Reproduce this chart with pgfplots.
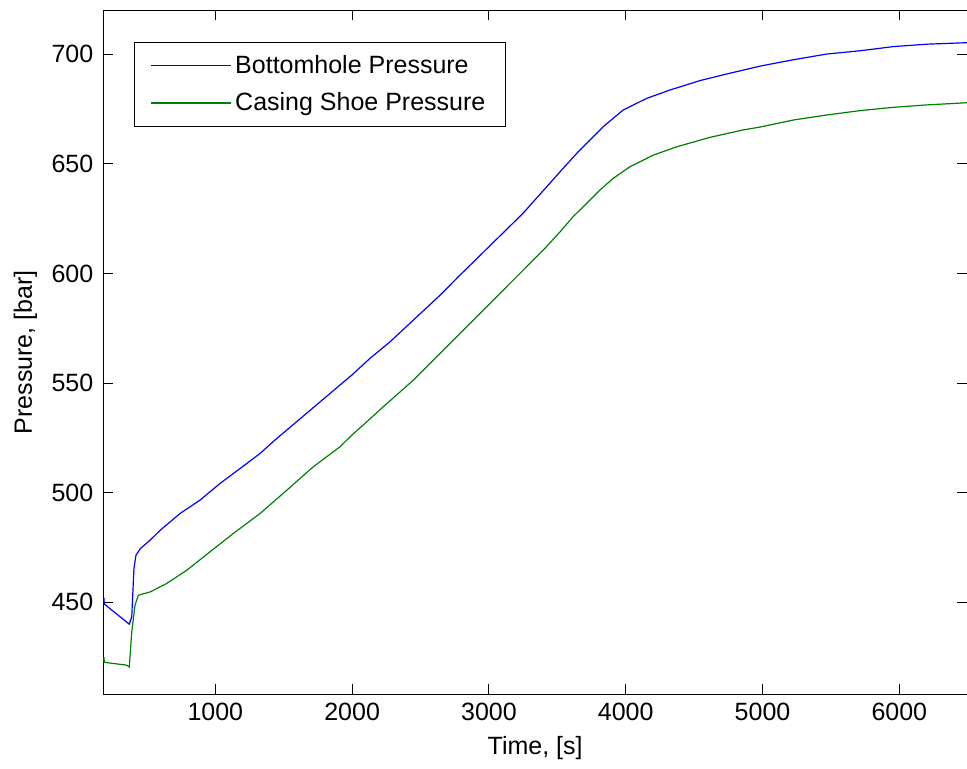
\documentclass[border=0pt]{standalone}
\usepackage{fontspec}
\setmainfont{Liberation Sans}
\usepackage{pgfplots}
\pgfplotsset{compat=1.18}
\definecolor{mblue}{RGB}{0,0,255}
\definecolor{mgreen}{RGB}{0,128,0}
\begin{document}
\begin{tikzpicture}
\useasboundingbox (-51.65pt,-36.85pt) rectangle (431.85pt,347.15pt);
\begin{axis}[
  scale only axis, width=431.85pt, height=342.15pt,
  xmin=181, xmax=6495, ymin=408, ymax=720.2,
  xtick={1000,2000,3000,4000,5000,6000}, ytick={450,500,550,600,650,700},
  tick align=inside, major tick length=5pt,
  tick style={line width=0.5pt, black},
  axis line style={line width=0.5pt},
  font=\fontsize{12.5}{15}\selectfont,
  /pgf/number format/assume math mode=true,
  scaled x ticks=false,
  xticklabel style={/pgf/number format/1000 sep={}, yshift=-1pt},
  yticklabel style={xshift=-1.5pt},
  xlabel={Time, [s]}, ylabel={Pressure, [bar]},
  xlabel style={at={(axis description cs:0.5,-0.079)}, anchor=center},
  ylabel style={at={(axis description cs:-0.0903,0.5)}, anchor=center},
  legend style={at={(0.035,0.953)}, anchor=north west, draw=black, line width=0.5pt,
    cells={anchor=west}, row sep=4pt, inner xsep=8pt, inner ysep=4.3pt},
  legend image code/.code={\draw[#1] (0pt,0pt) -- (40pt,0pt);},
]
\addplot[mblue, line width=0.6pt] coordinates {
(181,449.4) (186,452.0) (188,449.2) (371,440.0) (389,443.3) (405,465.4) (420,471.5)
(452,474.5) (523,478.3) (596,482.8) (742,490.5) (888,496.6) (1034,504.2) (1181,511.0)
(1327,517.9) (1436,524.0) (1911,549.1) (1997,553.6) (2131,561.3) (2277,568.8)
(2447,578.7) (2643,590.1) (2789,599.3) (2911,606.7) (2984,611.2) (3250,627.5)
(3520,646.4) (3642,654.8) (3739,660.9) (3836,667.0) (3982,674.6) (4154,679.9)
(4324,683.7) (4543,688.0) (4738,691.0) (4982,694.6) (5225,697.5) (5469,700.1)
(5713,701.6) (5956,703.5) (6200,704.6) (6495,705.3)
};
\addlegendentry{Bottomhole Pressure\hspace{3pt}}
\addplot[mgreen, line width=0.6pt] coordinates {
(181,422.8) (186,425.0) (188,422.6) (352,421.3) (371,420.5) (389,436.5) (413,448.7)
(437,453.2) (523,454.7) (645,458.6) (791,464.6) (961,473.0) (1132,481.4) (1327,490.5)
(1522,501.1) (1716,511.8) (1911,520.9) (1997,526.2) (2094,531.6) (2228,539.2)
(2447,551.3) (2667,565.0) (2886,578.7) (3081,590.9) (3252,601.6) (3410,611.5)
(3520,619.0) (3617,626.0) (3715,632.0) (3812,638.1) (3909,643.4) (4031,648.7)
(4202,654.0) (4373,657.8) (4616,662.1) (4860,665.5) (4982,666.8) (5225,670.0)
(5469,672.3) (5713,674.3) (5956,675.8) (6200,676.9) (6495,677.9)
};
\addlegendentry{Casing Shoe Pressure\hspace{3pt}}
\end{axis}
\end{tikzpicture}
\end{document}
